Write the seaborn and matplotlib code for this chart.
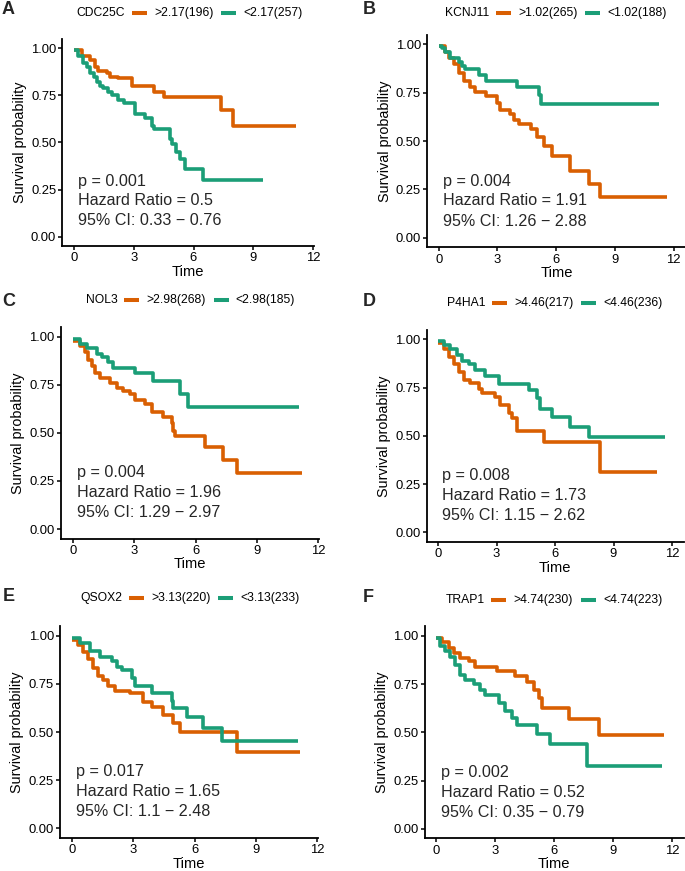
import numpy as np
import pandas as pd
import matplotlib
matplotlib.use("Agg")
import matplotlib.pyplot as plt
import seaborn as sns
from matplotlib.lines import Line2D

sns.set_style("ticks")
plt.rcParams['font.family'] = ['Liberation Sans', 'DejaVu Sans']

ORANGE = "#D95F02"
GREEN = "#1B9E77"

# ---------------- data ----------------
panel_letters = ["A", "B", "C", "D", "E", "F"]
genes = ["CDC25C", "KCNJ11", "NOL3", "P4HA1", "QSOX2", "TRAP1"]
cutoffs = ["2.17", "1.02", "2.98", "4.46", "3.13", "4.74"]
n_high = [196, 265, 268, 217, 220, 230]
n_low = [257, 188, 185, 236, 233, 223]
p_values = ["0.001", "0.004", "0.004", "0.008", "0.017", "0.002"]
hazard_ratios = ["0.5", "1.91", "1.96", "1.73", "1.65", "0.52"]
ci_low = ["0.33", "1.26", "1.29", "1.15", "1.1", "0.35"]
ci_high = ["0.76", "2.88", "2.97", "2.62", "2.48", "0.79"]
x_ticks = [0, 3, 6, 9, 12]
y_ticks = [0.00, 0.25, 0.50, 0.75, 1.00]
y_ticklabels = ["0.00", "0.25", "0.50", "0.75", "1.00"]

A_hi_t = [0, 0.38, 0.8, 1.05, 1.2, 1.64, 1.8, 2.2, 2.9, 4.0, 4.5, 7.4, 8.0, 11.17]
A_hi_s = [0.99, 0.96, 0.94, 0.90, 0.88, 0.87, 0.85, 0.84, 0.80, 0.77, 0.74, 0.67, 0.59, 0.59]
A_lo_t = [0, 0.2, 0.47, 0.65, 0.8, 1.0, 1.14, 1.3, 1.47, 1.7, 1.9, 2.2, 2.5, 3.06, 3.56,
          3.9, 4.0, 4.8, 4.9, 5.1, 5.3, 5.57, 6.5, 9.5]
A_lo_s = [0.99, 0.96, 0.92, 0.90, 0.87, 0.85, 0.82, 0.80, 0.79, 0.77, 0.75, 0.726, 0.708, 0.65, 0.63,
          0.59, 0.57, 0.52, 0.49, 0.45, 0.41, 0.36, 0.30, 0.30]

B_hi_t = [0, 0.3, 0.51, 0.77, 1.02, 1.28, 1.6, 1.87, 2.4, 3.0, 3.15, 3.66, 3.83, 4.1, 4.7,
          5.0, 5.36, 5.8, 6.7, 7.66, 8.26, 11.66]
B_hi_s = [0.99, 0.96, 0.93, 0.90, 0.85, 0.81, 0.78, 0.755, 0.735, 0.695, 0.66, 0.64, 0.61, 0.59, 0.56,
          0.52, 0.476, 0.42, 0.347, 0.28, 0.21, 0.21]
B_lo_t = [0, 0.17, 0.34, 0.6, 1.02, 1.2, 1.36, 2.04, 2.4, 4.0, 5.1, 5.2, 11.23]
B_lo_s = [0.99, 0.98, 0.96, 0.93, 0.91, 0.89, 0.872, 0.84, 0.812, 0.778, 0.74, 0.69, 0.69]

C_hi_t = [0, 0.36, 0.6, 0.77, 0.93, 1.09, 1.34, 1.82, 2.15, 2.48, 2.8, 3.05, 3.53, 3.86, 4.43,
          4.84, 4.92, 5.0, 6.47, 7.36, 8.01, 11.19]
C_hi_s = [0.98, 0.95, 0.92, 0.88, 0.85, 0.81, 0.783, 0.76, 0.735, 0.72, 0.70, 0.67, 0.65, 0.61, 0.584,
          0.55, 0.51, 0.483, 0.425, 0.359, 0.29, 0.29]
C_lo_t = [0, 0.36, 0.68, 1.17, 1.42, 1.74, 1.99, 3.05, 3.94, 5.24, 5.65, 11.07]
C_lo_s = [0.99, 0.96, 0.94, 0.91, 0.893, 0.87, 0.839, 0.81, 0.771, 0.70, 0.633, 0.633]

D_hi_t = [0, 0.29, 0.55, 0.8, 1.06, 1.32, 1.66, 2.09, 2.26, 2.94, 3.2, 3.62, 3.79, 4.05, 5.42, 8.32, 11.23]
D_hi_s = [0.98, 0.95, 0.91, 0.87, 0.832, 0.79, 0.772, 0.743, 0.72, 0.70, 0.66, 0.62, 0.59, 0.527, 0.466, 0.311, 0.311]
D_lo_t = [0, 0.29, 0.63, 0.97, 1.23, 1.57, 1.91, 2.43, 3.11, 4.65, 5.08, 5.25, 5.85, 6.79, 7.73, 11.66]
D_lo_s = [0.99, 0.97, 0.95, 0.92, 0.89, 0.87, 0.84, 0.81, 0.767, 0.737, 0.694, 0.64, 0.596, 0.547, 0.496, 0.496]

E_hi_t = [0, 0.31, 0.55, 0.8, 1.04, 1.29, 1.53, 1.78, 2.1, 2.84, 3.49, 3.9, 4.47, 4.96, 5.29, 8.06, 11.16]
E_hi_s = [0.98, 0.95, 0.913, 0.88, 0.83, 0.79, 0.77, 0.739, 0.715, 0.70, 0.657, 0.63, 0.588, 0.545, 0.498, 0.398, 0.398]
E_lo_t = [0, 0.39, 0.88, 1.37, 1.94, 2.19, 2.43, 2.92, 3.08, 3.9, 4.88, 4.96, 5.61, 6.43, 7.32, 11.04]
E_lo_s = [0.99, 0.96, 0.922, 0.891, 0.869, 0.84, 0.82, 0.782, 0.739, 0.70, 0.66, 0.626, 0.576, 0.522, 0.453, 0.453]

F_hi_t = [0, 0.29, 0.63, 0.88, 1.22, 1.65, 1.99, 3.09, 4.02, 4.62, 4.96, 5.21, 5.38, 6.74, 8.27, 11.61]
F_hi_s = [0.99, 0.97, 0.94, 0.91, 0.884, 0.87, 0.84, 0.82, 0.794, 0.76, 0.72, 0.676, 0.628, 0.569, 0.486, 0.486]
F_lo_t = [0, 0.2, 0.46, 0.71, 0.97, 1.22, 1.48, 1.9, 2.24, 2.5, 3.17, 3.51, 3.85, 4.11, 5.13, 5.81, 7.67, 11.49]
F_lo_s = [0.99, 0.95, 0.92, 0.889, 0.85, 0.80, 0.77, 0.751, 0.72, 0.694, 0.65, 0.612, 0.573, 0.538, 0.491, 0.439, 0.327, 0.327]

curves = [
    (A_hi_t, A_hi_s, A_lo_t, A_lo_s),
    (B_hi_t, B_hi_s, B_lo_t, B_lo_s),
    (C_hi_t, C_hi_s, C_lo_t, C_lo_s),
    (D_hi_t, D_hi_s, D_lo_t, D_lo_s),
    (E_hi_t, E_hi_s, E_lo_t, E_lo_s),
    (F_hi_t, F_hi_s, F_lo_t, F_lo_s),
]

# ---------------- layout (pixels) ----------------
W, H = 685, 871
# x pixel of t=0, x pixel of t=12, y pixel of S=1, y pixel of S=0, right xlim
layout = [
    (74.0, 313.0, 48.3, 236.7, 12.03),
    (438.7, 673.7, 44.3, 237.7, 12.6),
    (72.7, 318.3, 336.7, 529.0, 12.03),
    (438.0, 672.0, 339.3, 532.3, 12.6),
    (72.0, 317.3, 635.7, 828.3, 12.03),
    (436.3, 672.0, 636.0, 828.7, 12.6),
]
XL = -0.58
legend_pos = [(189.5, 13.3), (556, 12.7), (190.5, 300), (554.5, 303.3), (190, 598.3), (554, 600)]
letter_pos = [(8.5, 10), (369.5, 10), (8.5, 301), (369, 301), (8.5, 596), (368, 598)]

fig = plt.figure(figsize=(W / 100, H / 100), dpi=100)
renderer = fig.canvas.get_renderer()


def fx(px):
    return px / W


def fy(py):
    return 1 - py / H


def draw_legend(cx, cy, title, lab1, lab2):
    fs = 8.7
    items = [("text", title, None), ("gap", 6.7, None), ("key", 15, ORANGE), ("gap", 7.3, None),
             ("text", lab1, None), ("gap", 7.7, None), ("key", 15, GREEN), ("gap", 7.3, None),
             ("text", lab2, None)]
    widths = []
    objs = []
    for kind, val, col in items:
        if kind == "text":
            t = fig.text(0, fy(cy), val, fontsize=fs, va="center", ha="left", color="black")
            widths.append(t.get_window_extent(renderer).width)
            objs.append(t)
        else:
            widths.append(val)
            objs.append(None)
    x = cx - sum(widths) / 2
    for (kind, val, col), w, o in zip(items, widths, objs):
        if kind == "text":
            o.set_x(fx(x))
        elif kind == "key":
            fig.add_artist(Line2D([fx(x), fx(x + w)], [fy(cy), fy(cy)], transform=fig.transFigure,
                                  color=col, linewidth=2.9, solid_capstyle="butt"))
        x += w


for i in range(6):
    x0, x12, y1, y0, xr = layout[i]
    ux = (x12 - x0) / 12.0
    uy = (y0 - y1)
    left = x0 + XL * ux
    width = (xr - XL) * ux
    top = y1 - 0.05 * uy
    height = 1.1 * uy
    ax = fig.add_axes([fx(left), fy(top + height), width / W, height / H])

    hi_t, hi_s, lo_t, lo_s = curves[i]
    df_hi = pd.DataFrame({"Time": hi_t, "Survival": hi_s})
    df_lo = pd.DataFrame({"Time": lo_t, "Survival": lo_s})
    sns.lineplot(data=df_hi, x="Time", y="Survival", ax=ax, color=ORANGE, linewidth=2.6,
                 drawstyle="steps-post", estimator=None, sort=False, legend=False,
                 solid_capstyle="butt", zorder=3)
    sns.lineplot(data=df_lo, x="Time", y="Survival", ax=ax, color=GREEN, linewidth=2.6,
                 drawstyle="steps-post", estimator=None, sort=False, legend=False,
                 solid_capstyle="butt", zorder=3)

    ax.set_xlim(XL, xr)
    ax.set_ylim(-0.05, 1.05)
    ax.set_xticks(x_ticks)
    ax.set_xticklabels([str(v) for v in x_ticks])
    ax.set_yticks(y_ticks)
    ax.set_yticklabels(y_ticklabels)
    for s in ["top", "right"]:
        ax.spines[s].set_visible(False)
    for s in ["left", "bottom"]:
        ax.spines[s].set_linewidth(1.3)
        ax.spines[s].set_color("black")
    ax.tick_params(axis="both", length=3.0, width=1.1, color="black", labelsize=9.4,
                   labelcolor="black", pad=1.5)
    ax.set_xlabel("Time", fontsize=10.6, labelpad=0.3, color="black")
    ax.set_ylabel("Survival probability", fontsize=10.4, labelpad=3, color="black")

    ax.text(0.22, 0.293, f"p = {p_values[i]}", fontsize=11.6, va="center", ha="left")
    ax.text(0.22, 0.19, f"Hazard Ratio = {hazard_ratios[i]}", fontsize=11.6, va="center", ha="left")
    ax.text(0.22, 0.085, f"95% CI: {ci_low[i]} \u2212 {ci_high[i]}", fontsize=11.6, va="center", ha="left")

    cx, cy = legend_pos[i]
    draw_legend(cx, cy, genes[i], f">{cutoffs[i]}({n_high[i]})", f"<{cutoffs[i]}({n_low[i]})")
    lx, ly = letter_pos[i]
    fig.text(fx(lx), fy(ly), panel_letters[i], fontsize=13, fontweight="bold", ha="center", va="center")

fig.savefig("out.png", dpi=100)
